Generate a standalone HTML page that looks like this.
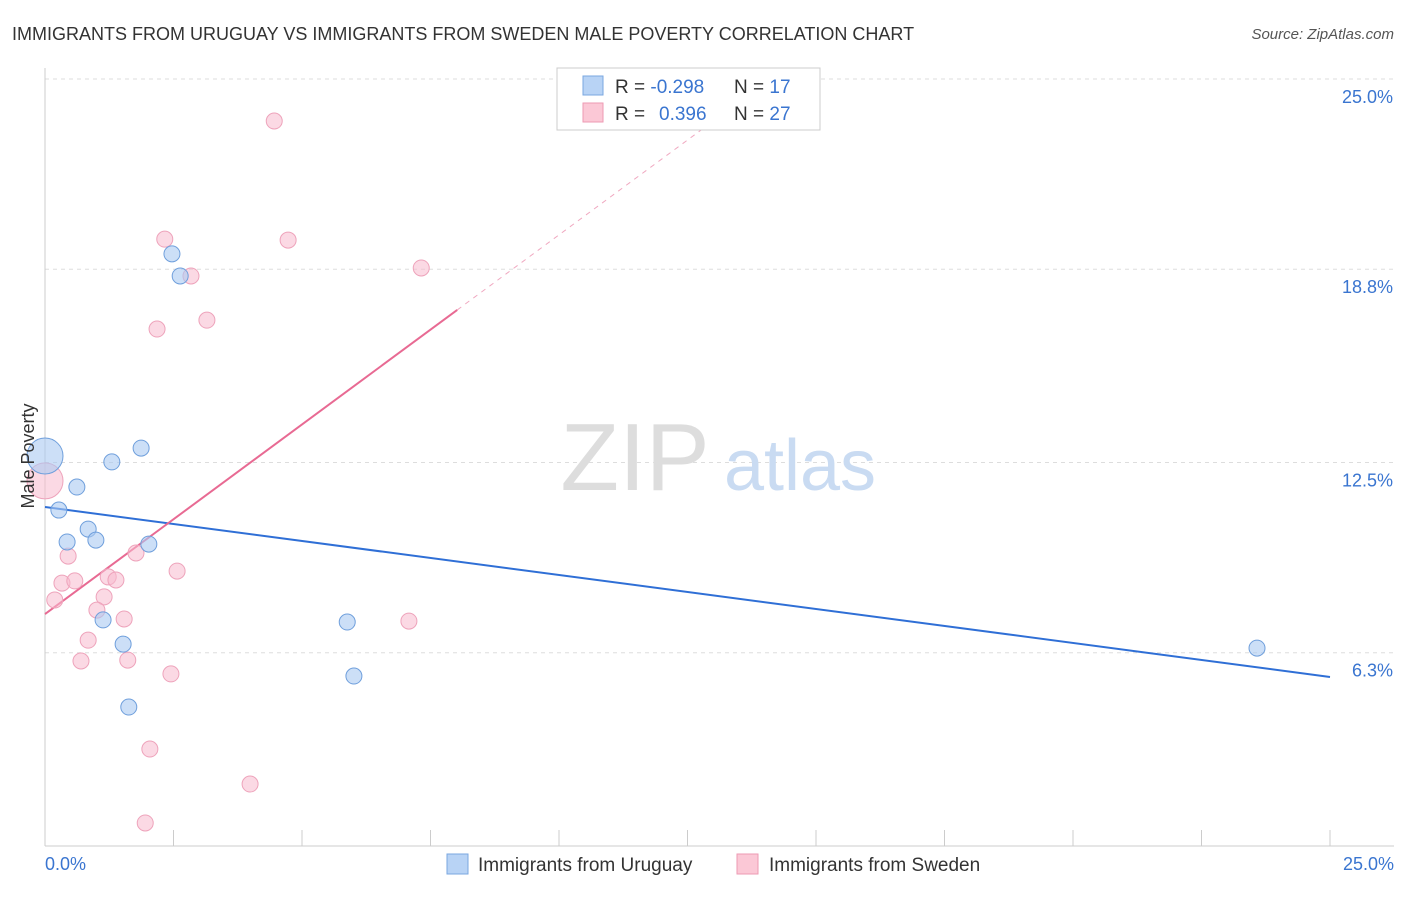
<!DOCTYPE html>
<html><head><meta charset="utf-8"><style>
body{margin:0;background:#fff;font-family:"Liberation Sans",sans-serif;}
svg text{font-family:"Liberation Sans",sans-serif;}
</style></head><body>
<svg width="1406" height="892" viewBox="0 0 1406 892">
<text x="12" y="40" font-size="18" fill="#333">IMMIGRANTS FROM URUGUAY VS IMMIGRANTS FROM SWEDEN MALE POVERTY CORRELATION CHART</text>
<text x="1394" y="39" font-size="15" fill="#555" font-style="italic" text-anchor="end">Source: ZipAtlas.com</text>
<g id="grid"></g>
<text x="635" y="490" font-size="96" fill="#ddd" font-family="Liberation Serif" text-anchor="middle">ZIP</text>
<text x="800" y="490" font-size="72" fill="#c9dbf2" text-anchor="middle">atlas</text>
<g id="lines"></g>
<g id="points"></g>
<text x="34" y="456" font-size="18" fill="#333" text-anchor="middle" transform="rotate(-90 34 456)">Male Poverty</text>
<g>
<rect x="557" y="68" width="263" height="62" fill="#fff" stroke="#ccc"/>
<rect x="583" y="76" width="20" height="19" fill="#b8d3f5" stroke="#7aa7e0"/>
<rect x="583" y="103" width="20" height="19" fill="#fbc8d6" stroke="#ee9ab3"/>
<text x="615" y="93" font-size="19" fill="#333">R = <tspan fill="#3a75d0">-0.298</tspan></text>
<text x="734" y="93" font-size="19" fill="#333">N = <tspan fill="#3a75d0">17</tspan></text>
<text x="615" y="120" font-size="19" fill="#333">R = <tspan fill="#3a75d0" x="659">0.396</tspan></text>
<text x="734" y="120" font-size="19" fill="#333">N = <tspan fill="#3a75d0">27</tspan></text>
</g>
<g>
<rect x="447" y="854" width="21" height="20" fill="#b8d3f5" stroke="#7aa7e0"/>
<text x="478" y="871" font-size="19" fill="#333">Immigrants from Uruguay</text>
<rect x="737" y="854" width="21" height="20" fill="#fbc8d6" stroke="#ee9ab3"/>
<text x="769" y="871" font-size="19" fill="#333">Immigrants from Sweden</text>
</g>
</svg>
<script>
const yTicks=[6.3,12.5,18.8,25.0];
const yTickLabels=["6.3%","12.5%","18.8%","25.0%"];
const xTickCount=10;
const xLabels=["0.0%","25.0%"];
const uruguayX=[0,0.27,0.62,0.43,0.84,0.99,1.30,1.87,2.02,1.13,1.52,1.63,2.47,2.63,5.88,6.01,23.58];
const uruguayY=[12.71,10.95,11.70,9.91,10.33,9.97,12.52,12.97,9.84,7.37,6.58,4.53,19.30,18.58,7.30,5.54,6.45];
const swedenX=[0,4.46,2.33,4.73,2.84,7.32,3.15,2.18,0.45,0.33,0.58,0.19,1.23,1.38,1.15,1.01,1.54,1.77,2.57,0.84,0.70,1.61,2.45,7.08,2.04,3.99,1.95];
const swedenY=[11.90,23.63,19.78,19.75,18.58,18.84,17.14,16.85,9.45,8.57,8.64,8.02,8.77,8.67,8.12,7.69,7.40,9.55,8.96,6.71,6.03,6.06,5.61,7.33,3.16,2.02,0.75];
const uruguayFit=[11.05,5.51];
const swedenFit=[7.56,1.236];
const NS="http://www.w3.org/2000/svg";
const X=v=>45+v*51.4, Y=v=>846-v*30.68;
function mk(tag,attrs,parent){const e=document.createElementNS(NS,tag);for(const k in attrs)e.setAttribute(k,attrs[k]);parent.appendChild(e);return e;}
const grid=document.getElementById('grid');
yTicks.forEach((t,i)=>{
 const l=mk('line',{x1:45,x2:1394,y1:Y(t),y2:Y(t),stroke:'#ddd','stroke-dasharray':'4 4'},grid);
 
 
 const tx=mk('text',{x:1393,y:Y(t)+24,'font-size':18,fill:'#3a75d0','text-anchor':'end'},grid);
 tx.textContent=yTickLabels[i];
 
 
});
const ax=mk('line',{x1:45,x2:45,y1:68,y2:846,stroke:'#ccc'},grid);


const bx=mk('line',{x1:45,x2:1394,y1:846,y2:846,stroke:'#ccc'},grid);


for(let i=0;i<=xTickCount;i++){
 const v=25*i/xTickCount;
 const t=mk('line',{x1:X(v),x2:X(v),y1:830,y2:846,stroke:'#ccc'},grid);
 
 
}
[[0,'start',45],[25,'end',1394]].forEach((a,i)=>{
 const t=mk('text',{x:a[2],y:870,'font-size':18,fill:'#3a75d0','text-anchor':a[1]},grid);
 t.textContent=xLabels[i];
 
 
});
const lines=document.getElementById('lines');
const bl=mk('line',{x1:X(0),y1:Y(uruguayFit[0]),x2:X(25),y2:Y(uruguayFit[1]),stroke:'#2f6fd6','stroke-width':2},lines);


const sx1=8.02, sx2=(25-swedenFit[0])/swedenFit[1];
const pl=mk('line',{x1:X(0),y1:Y(swedenFit[0]),x2:X(sx1),y2:Y(swedenFit[0]+swedenFit[1]*sx1),stroke:'#e86a93','stroke-width':2},lines);


const pd=mk('line',{x1:X(sx1),y1:Y(swedenFit[0]+swedenFit[1]*sx1),x2:X(sx2),y2:Y(25),stroke:'#f0a8c0','stroke-width':1,'stroke-dasharray':'5 5'},lines);


const pts=document.getElementById('points');
swedenX.forEach((v,i)=>{
 const c=mk('circle',{cx:X(v),cy:Y(swedenY[i]),r:i===0?18:8,fill:'rgba(248,185,205,0.55)',stroke:'#eea3bb','stroke-width':1},pts);
 
 
});
uruguayX.forEach((v,i)=>{
 const c=mk('circle',{cx:X(v),cy:Y(uruguayY[i]),r:i===0?18:8,fill:'rgba(170,202,242,0.6)',stroke:'#6f9fdc','stroke-width':1},pts);
 
 
});
</script>
</body></html>
